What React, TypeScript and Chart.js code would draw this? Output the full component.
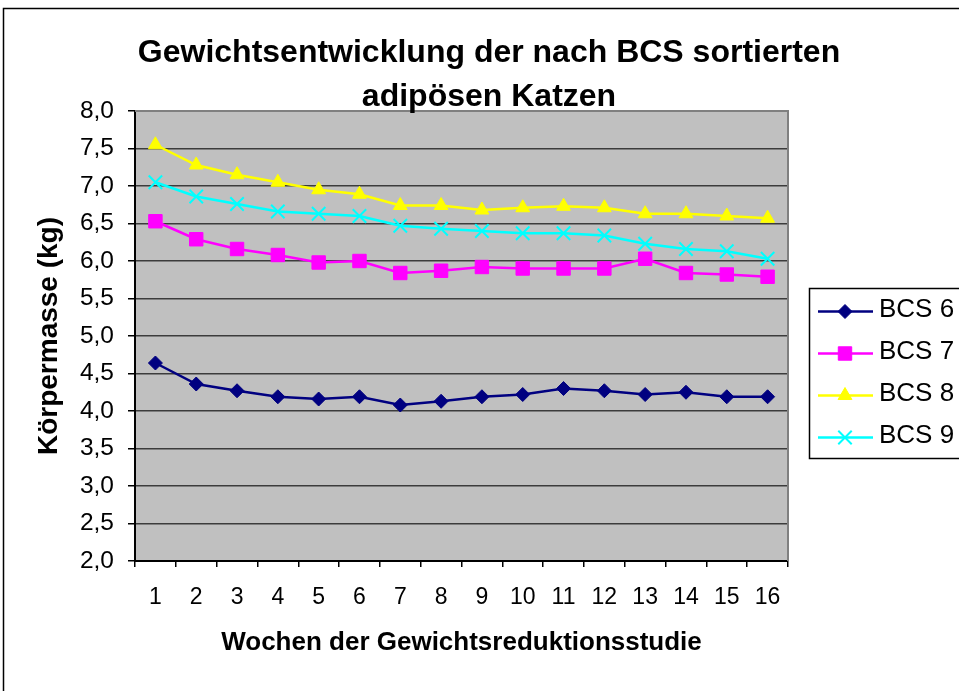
import React, { useEffect, useRef } from 'react';
import { Chart, registerables } from 'chart.js';

Chart.register(...registerables);

const FONT = "'Liberation Sans', Arial, Helvetica, sans-serif";

const chartTitle = ['Gewichtsentwicklung der nach BCS sortierten', 'adipösen Katzen'];
const xAxisTitle = 'Wochen der Gewichtsreduktionsstudie';
const yAxisTitle = 'Körpermasse (kg)';

const weeks = ['1', '2', '3', '4', '5', '6', '7', '8', '9', '10', '11', '12', '13', '14', '15', '16'];
const seriesNames = ['BCS 6', 'BCS 7', 'BCS 8', 'BCS 9'];
const seriesColors = ['#000080', '#FF00FF', '#FFFF00', '#00FFFF'];
const seriesMarkers = ['rectRot', 'rect', 'triangle', 'crossRot'];

const bcs6 = [4.64, 4.36, 4.27, 4.19, 4.16, 4.19, 4.08, 4.13, 4.19, 4.22, 4.30, 4.27, 4.22, 4.25, 4.19, 4.19];
const bcs7 = [6.53, 6.29, 6.16, 6.08, 5.98, 6.00, 5.84, 5.87, 5.92, 5.90, 5.90, 5.90, 6.03, 5.84, 5.82, 5.79];
const bcs8 = [7.55, 7.28, 7.15, 7.05, 6.95, 6.89, 6.74, 6.74, 6.68, 6.71, 6.73, 6.71, 6.63, 6.63, 6.60, 6.57];
const bcs9 = [7.05, 6.86, 6.76, 6.66, 6.63, 6.60, 6.47, 6.43, 6.40, 6.37, 6.37, 6.34, 6.23, 6.16, 6.13, 6.03];

const yMin = 2;
const yMax = 8;
const yStep = 0.5;

const seriesValues = [bcs6, bcs7, bcs8, bcs9];
const markerRadius = [7, 9.5, 8, 9.5];

function drawMarker(ctx: CanvasRenderingContext2D, style: string, x: number, y: number, r: number, color: string) {
  ctx.save();
  ctx.fillStyle = color;
  ctx.strokeStyle = color;
  ctx.lineWidth = style === 'crossRot' ? 2 : 1;
  ctx.beginPath();
  if (style === 'rectRot') {
    ctx.moveTo(x - r, y);
    ctx.lineTo(x, y - r);
    ctx.lineTo(x + r, y);
    ctx.lineTo(x, y + r);
    ctx.closePath();
    ctx.fill();
    ctx.stroke();
  } else if (style === 'rect') {
    const s = r * Math.SQRT1_2;
    ctx.rect(x - s, y - s, 2 * s, 2 * s);
    ctx.fill();
    ctx.stroke();
  } else if (style === 'triangle') {
    ctx.moveTo(x, y - r);
    ctx.lineTo(x + r * 0.866, y + r * 0.5);
    ctx.lineTo(x - r * 0.866, y + r * 0.5);
    ctx.closePath();
    ctx.fill();
    ctx.stroke();
  } else {
    const d = r * Math.SQRT1_2;
    ctx.moveTo(x - d, y - d);
    ctx.lineTo(x + d, y + d);
    ctx.moveTo(x - d, y + d);
    ctx.lineTo(x + d, y - d);
    ctx.stroke();
  }
  ctx.restore();
}

const decorPlugin = {
  id: 'decor',
  beforeDraw(chart: any) {
    const { ctx, chartArea: ca, width, height } = chart;
    ctx.save();
    ctx.fillStyle = '#ffffff';
    ctx.fillRect(0, 0, width, height);
    ctx.strokeStyle = '#000000';
    ctx.lineWidth = 1.5;
    ctx.strokeRect(3.5, 8.5, width + 40, height + 40);
    ctx.fillStyle = '#C0C0C0';
    ctx.fillRect(ca.left, ca.top, ca.right - ca.left, ca.bottom - ca.top);
    ctx.restore();
  },
  beforeDatasetsDraw(chart: any) {
    const { ctx, chartArea: ca } = chart;
    ctx.save();
    ctx.strokeStyle = '#808080';
    ctx.lineWidth = 2;
    ctx.beginPath();
    ctx.moveTo(ca.left, ca.top);
    ctx.lineTo(ca.right, ca.top);
    ctx.lineTo(ca.right, ca.bottom);
    ctx.stroke();
    ctx.restore();
  },
  afterDraw(chart: any) {
    const { ctx } = chart;
    ctx.save();
    // title
    ctx.fillStyle = '#000';
    ctx.font = `bold 32px ${FONT}`;
    ctx.textAlign = 'center';
    ctx.textBaseline = 'alphabetic';
    ctx.fillText(chartTitle[0], 489, 62);
    ctx.fillText(chartTitle[1], 489, 106);

    // legend
    const lx = 809.5;
    const ly = 288.5;
    ctx.strokeStyle = '#000';
    ctx.lineWidth = 1.5;
    ctx.strokeRect(lx, ly, 200, 170);
    ctx.font = `26px ${FONT}`;
    ctx.textAlign = 'left';
    chart.data.datasets.forEach((ds: any, i: number) => {
      const cy = 311.5 + i * 42;
      ctx.strokeStyle = ds.borderColor;
      ctx.lineWidth = 2.5;
      ctx.beginPath();
      ctx.moveTo(818, cy);
      ctx.lineTo(873, cy);
      ctx.stroke();
      drawMarker(ctx, ds.pointStyle, 845, cy, ds.pointRadius, ds.borderColor);
      ctx.fillStyle = '#000';
      ctx.fillText(ds.label, 879, cy + 5);
    });
    ctx.restore();
  },
};

export default function App() {
  const ref = useRef<HTMLCanvasElement>(null);

  useEffect(() => {
    if (!ref.current) return;
    const chart = new Chart(ref.current, {
      type: 'line',
      data: {
        labels: weeks,
        datasets: seriesNames.map((name, i) => ({
          label: name,
          data: seriesValues[i],
          borderColor: seriesColors[i],
          backgroundColor: seriesColors[i],
          pointBackgroundColor: seriesColors[i],
          pointBorderColor: seriesColors[i],
          pointStyle: seriesMarkers[i] as any,
          pointRadius: markerRadius[i],
          pointBorderWidth: seriesMarkers[i] === 'crossRot' ? 2 : 1,
          borderWidth: 2.5,
          tension: 0,
          fill: false,
        })),
      },
      options: {
        responsive: false,
        animation: false,
        devicePixelRatio: 1,
        layout: { padding: { left: 20, right: 171, top: 111, bottom: 0 } },
        plugins: {
          legend: { display: false },
          title: { display: false },
          tooltip: { enabled: false },
        },
        scales: {
          x: {
            type: 'category',
            offset: true,
            afterFit: (scale: any) => {
              scale.height = 130;
            },
            grid: {
              offset: true,
              drawOnChartArea: false,
              drawTicks: true,
              tickLength: 6,
              color: '#000',
              lineWidth: 1.5,
            },
            border: { display: true, color: '#000', width: 2 },
            ticks: {
              color: '#000',
              font: { family: FONT, size: 23 },
              padding: 17,
              maxRotation: 0,
              autoSkip: false,
            },
            title: {
              display: true,
              text: xAxisTitle,
              color: '#000',
              font: { family: FONT, size: 26, weight: 'bold' },
              padding: { top: 0, bottom: 33 },
            },
          },
          y: {
            min: yMin,
            max: yMax,
            afterFit: (scale: any) => {
              scale.width = 115;
            },
            ticks: {
              stepSize: yStep,
              color: '#000',
              font: { family: FONT, size: 24.5 },
              padding: 14,
              callback: (v: any) => Number(v).toFixed(1).replace('.', ','),
            },
            grid: {
              color: '#3c3c3c',
              lineWidth: 1.5,
              drawTicks: true,
              tickLength: 7,
              tickColor: '#000',
            },
            border: { display: true, color: '#000', width: 2 },
            title: {
              display: true,
              text: yAxisTitle,
              color: '#000',
              font: { family: FONT, size: 28, weight: 'bold' },
              padding: { top: 12, bottom: 0 },
            },
          },
        },
      },
      plugins: [decorPlugin],
    });
    return () => chart.destroy();
  }, []);

  return (
    <div style={{ position: 'absolute', left: 0, top: 0, width: 959, height: 691, overflow: 'hidden' }}>
      <canvas ref={ref} width={959} height={691} style={{ display: 'block' }} />
    </div>
  );
}
